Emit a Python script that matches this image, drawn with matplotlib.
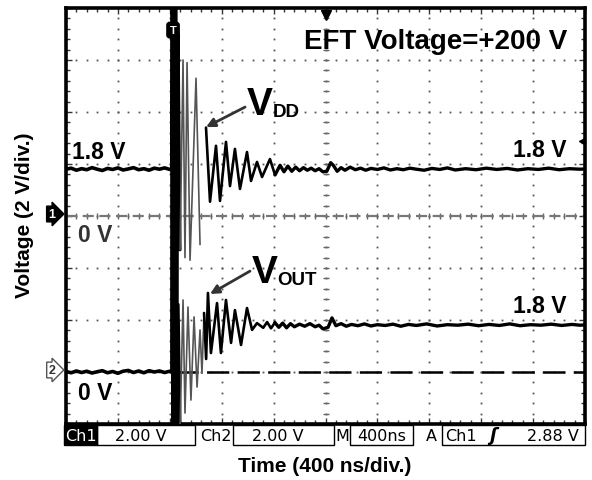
import numpy as np
import matplotlib.pyplot as plt
from matplotlib.patches import Rectangle

plt.rcParams['font.family'] = ['Liberation Sans', 'DejaVu Sans']
plt.rcParams['lines.scale_dashes'] = False

#### Data (time in ns, voltage in V)
# Ch1 : VDD (ground at centre line)
t_vdd = [-2000, -1960, -1920, -1880, -1840, -1800, -1760, -1720, -1680, -1640,
         -1600, -1560, -1520, -1480, -1440, -1400, -1360, -1320, -1280, -1240,
         -1200, -1186,
         -1182, -1178, -1174, -1170, -1165, -1160, -1154, -1146, -1136, -1121,
         -1098, -1083, -1067, -1044, -998, -967, -921, -890, -844, -813,
         -767, -736, -698, -659, -605, -574, -528, -489, -428, -389,
         -350, -320, -290, -260, -230, -200, -170, -140, -110, -80,
         -50, -20, 10, 40, 60, 90, 120, 150, 190, 230,
         270, 310, 350, 400, 450, 500, 550, 600, 650, 700,
         760, 820, 880, 940, 1000, 1080, 1160, 1240, 1320, 1400,
         1480, 1560, 1640, 1720, 1800, 1880, 1960, 2000]
v_vdd = [1.80, 1.84, 1.76, 1.82, 1.78, 1.86, 1.80, 1.75, 1.83, 1.79,
         1.85, 1.77, 1.81, 1.86, 1.78, 1.82, 1.76, 1.84, 1.80, 1.85,
         1.79, 1.80,
         8.8, -8.8, 8.8, -8.8, 8.8, -8.8, 8.0, -6.0, 7.0, -1.3,
         6.0, -1.6, 5.9, -1.7, 5.3, -1.1, 3.4, 0.55, 2.7, 0.58,
         2.85, 1.15, 2.58, 1.04, 2.46, 1.35, 2.08, 1.50, 2.19, 1.58,
         1.95, 1.70, 1.92, 1.72, 1.88, 1.74, 1.86, 1.76, 1.84, 1.74,
         1.82, 1.70, 1.72, 2.05, 1.95, 1.72, 1.86, 1.76, 1.88, 1.78,
         1.84, 1.76, 1.83, 1.79, 1.85, 1.77, 1.82, 1.78, 1.84, 1.80,
         1.76, 1.83, 1.79, 1.85, 1.77, 1.82, 1.78, 1.84, 1.79, 1.83,
         1.77, 1.82, 1.79, 1.84, 1.78, 1.82, 1.80, 1.81]

# Ch2 : VOUT (ground 3 div below centre)
t_vout = [-2000, -1960, -1920, -1880, -1840, -1800, -1760, -1720, -1680, -1640,
          -1600, -1560, -1520, -1480, -1440, -1400, -1360, -1320, -1280, -1240,
          -1200, -1186,
          -1182, -1178, -1174, -1170, -1165, -1160, -1154, -1146, -1136, -1121,
          -1098, -1083, -1060, -1037, -1013, -990, -967, -952, -936, -920,
          -906, -883, -836, -806, -767, -728, -698, -651, -605, -566,
          -528, -480, -450, -420, -390, -360, -330, -300, -270, -240,
          -200, -160, -120, -80, -50, -20, 20, 50, 80, 120,
          160, 200, 250, 300, 350, 400, 460, 520, 580, 640,
          700, 780, 860, 940, 1020, 1100, 1180, 1260, 1340, 1420,
          1500, 1580, 1660, 1740, 1820, 1900, 1960, 2000]
v_vout = [0.02, -0.03, 0.04, -0.02, 0.03, -0.04, 0.01, 0.05, -0.03, 0.02,
          -0.05, 0.03, 0.06, -0.02, 0.04, -0.03, 0.05, 0.00, 0.04, -0.02,
          0.03, 0.00,
          8.0, -2.6, 7.5, -2.6, 6.0, -2.6, 4.0, -2.5, 2.6, -2.2,
          2.77, -1.58, 2.50, -1.08, 2.12, -0.58, 1.62, -0.05, 2.27, 0.50,
          3.04, 0.73, 2.65, 0.73, 2.77, 1.12, 2.38, 1.04, 2.46, 1.62,
          1.88, 1.70, 1.92, 1.68, 1.90, 1.72, 1.88, 1.70, 1.86, 1.74,
          1.84, 1.76, 1.86, 1.74, 1.80, 1.66, 1.72, 2.08, 1.78, 1.86,
          1.76, 1.83, 1.78, 1.85, 1.77, 1.82, 1.79, 1.84, 1.76, 1.83,
          1.79, 1.85, 1.77, 1.82, 1.80, 1.84, 1.78, 1.83, 1.79, 1.85,
          1.78, 1.82, 1.80, 1.84, 1.79, 1.83, 1.80, 1.81]

ch1_offset = 0.0
ch2_offset = -6.0
trig_level = 2.88

W, H = 592, 481
def fx(x):
    return x / W
def fy(y):
    return 1 - y / H

fig = plt.figure(figsize=(5.92, 4.81), dpi=100)
ax = fig.add_axes([fx(66), fy(425), (585 - 66) / W, (425 - 9) / H])
ax.set_xlim(-2000, 2000)
ax.set_ylim(-8, 8)

#### Graticule
for xg in np.arange(-1600, 2000, 400):
    ax.plot(np.full(41, xg), np.arange(-8, 8.01, 0.4), ls='none', marker='s',
            ms=1.3, mew=0, color='#555555', zorder=1)
for yg in np.arange(-6, 8, 2):
    ax.plot(np.arange(-2000, 2001, 80), np.full(51, yg), ls='none', marker='s',
            ms=1.3, mew=0, color='#555555', zorder=1)
ax.plot(np.arange(-2000, 2001, 80), np.zeros(51), ls='none', marker='|',
        ms=5, color='#666666', zorder=1)
ax.plot(np.zeros(41), np.arange(-8, 8.01, 0.4), ls='none', marker='_',
        ms=5, color='#666666', zorder=1)

ax.set_xticks(np.arange(-2000, 2001, 400))
ax.set_xticks(np.arange(-2000, 2001, 80), minor=True)
ax.set_yticks(np.arange(-8, 8.01, 2))
ax.set_yticks(np.arange(-8, 8.01, 0.4), minor=True)
ax.tick_params(which='both', direction='in', top=True, right=True,
               labelbottom=False, labelleft=False, width=1, color='#333333')
ax.tick_params(which='major', length=4)
ax.tick_params(which='minor', length=3)
for s in ax.spines.values():
    s.set_linewidth(2.6)

#### Ground references
ax.axhline(ch1_offset, color='#777777', lw=1.6, ls=(0, (8, 4)), zorder=2)
ax.plot([-1150, 2000], [ch2_offset, ch2_offset], color='black', lw=1.8,
        ls=(0, (16, 6)), zorder=2)

#### Traces
def draw_trace(t, v, off):
    t = np.asarray(t, float)
    v = np.asarray(v, float) + off
    parts = [(-2001, -1186, 'black', 2.6),
             (-1186, -1121, 'black', 2.2),
             (-1121, -930, '#555555', 1.2),
             (-940, -380, 'black', 1.9),
             (-395, 2001, 'black', 2.4)]
    for a, b, c, lw in parts:
        m = (t >= a) & (t <= b)
        ax.plot(t[m], v[m], color=c, lw=lw, zorder=3,
                solid_joinstyle='round', solid_capstyle='round')

draw_trace(t_vdd, v_vdd, ch1_offset)
draw_trace(t_vout, v_vout, ch2_offset)

#### Labels on the screen
bold = dict(fontweight='bold', color='black', zorder=5)
ax.text(1860, 6.73, 'EFT Voltage=+200 V', ha='right', va='center', fontsize=20, **bold)
ax.text(-1950, 2.23, '1.8 V', ha='left', va='baseline', fontsize=16.5, **bold)
ax.text(1860, 2.3, '1.8 V', ha='right', va='baseline', fontsize=16.5, **bold)
ax.text(1860, -3.7, '1.8 V', ha='right', va='baseline', fontsize=16.5, **bold)
ax.text(-1908, -0.25, '0 V', ha='left', va='top', fontsize=16.5,
        fontweight='bold', color='#333333', zorder=5)
ax.text(-1908, -6.35, '0 V', ha='left', va='top', fontsize=16.5, **bold)

ax.text(-605, 3.93, 'V', ha='left', va='baseline', fontsize=28, **bold)
ax.text(-410, 3.85, 'DD', ha='left', va='baseline', fontsize=13.5, **bold)
ax.text(-565, -2.54, 'V', ha='left', va='baseline', fontsize=28, **bold)
ax.text(-370, -2.62, 'OUT', ha='left', va='baseline', fontsize=13.5, **bold)

arrow = dict(arrowstyle='-|>', color='#333333', lw=2, mutation_scale=13,
             shrinkA=0, shrinkB=0)
ax.annotate('', xy=(-921, 3.42), xytext=(-620, 4.19), arrowprops=arrow, zorder=5)
ax.annotate('', xy=(-890, -3.0), xytext=(-582, -2.12), arrowprops=arrow, zorder=5)

# markers: trigger, horizontal position, trigger level
ax.plot([0], [7.75], marker='v', ms=7, color='black', clip_on=False, zorder=6)
ax.text(-1175, 7.15, 'T', ha='center', va='center', fontsize=8, color='white',
        fontweight='bold', bbox=dict(boxstyle='round,pad=0.25', fc='black', ec='black'),
        zorder=6)
ax.plot([1975], [trig_level], marker='<', ms=5, color='black', clip_on=False, zorder=6)

#### Channel markers left of the screen
fig.text(fx(52), fy(215), '1', ha='center', va='center', fontsize=9,
         fontweight='bold', color='white',
         bbox=dict(boxstyle='rarrow,pad=0.15', fc='black', ec='black'))
fig.text(fx(52), fy(371), '2', ha='center', va='center', fontsize=9,
         fontweight='bold', color='#333333',
         bbox=dict(boxstyle='rarrow,pad=0.15', fc='white', ec='#555555'))

#### Status bar
def box(x0, x1, fill=False):
    fig.add_artist(Rectangle((fx(x0), fy(446)), (x1 - x0) / W, 20 / H,
                             transform=fig.transFigure,
                             facecolor='black' if fill else 'none',
                             edgecolor='black', lw=1))

def stat(x, s, color='black'):
    fig.text(fx(x), fy(436.5), s, ha='center', va='center', fontsize=11.5,
             family='DejaVu Sans', color=color)

box(64, 97, fill=True)
stat(80.5, 'Ch1', color='white')
box(97, 195)
stat(141, '2.00 V')
stat(216, 'Ch2')
box(233, 334)
stat(278, '2.00 V')
stat(342, 'M')
box(350, 413)
stat(382, '400ns')
stat(431, 'A')
box(442, 585)
stat(461, 'Ch1')
fig.text(fx(493), fy(436.5), 'ʃ', ha='center', va='center', fontsize=13,
         family='DejaVu Sans', fontweight='bold', fontstyle='italic')
stat(553, '2.88 V')

#### Axis titles
fig.text(fx(325), fy(466), 'Time (400 ns/div.)', ha='center', va='center',
         fontsize=15, fontweight='bold')
fig.text(fx(25), fy(215), 'Voltage (2 V/div.)', ha='center', va='center',
         fontsize=15, fontweight='bold', rotation=90)

fig.savefig('out.png', dpi=100)
